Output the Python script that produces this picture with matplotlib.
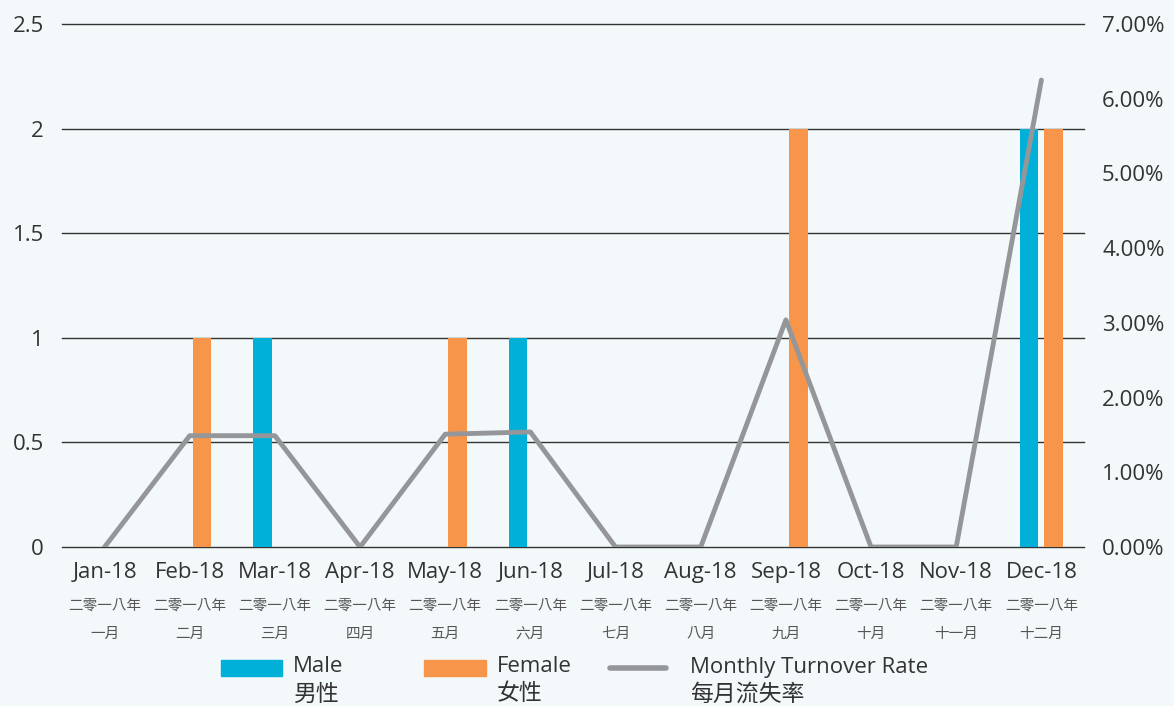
import matplotlib.pyplot as plt
from matplotlib.patches import Rectangle
from matplotlib.lines import Line2D
import numpy as np

plt.rcParams['font.family'] = ['Open Sans', 'Noto Sans CJK TC', 'DejaVu Sans']

# 数据
months_en = ['Jan-18', 'Feb-18', 'Mar-18', 'Apr-18', 'May-18', 'Jun-18',
             'Jul-18', 'Aug-18', 'Sep-18', 'Oct-18', 'Nov-18', 'Dec-18']
months_zh = ['一月', '二月', '三月', '四月', '五月', '六月',
             '七月', '八月', '九月', '十月', '十一月', '十二月']
year_zh = '二零一八年'
male = [0, 0, 1, 0, 0, 1, 0, 0, 0, 0, 0, 2]
female = [0, 1, 0, 0, 1, 0, 0, 0, 2, 0, 0, 2]
turnover = [0.0, 1.49, 1.49, 0.0, 1.51, 1.54, 0.0, 0.0, 3.04, 0.0, 0.0, 6.25]  # %

c_male = '#00b0d8'
c_female = '#f7964a'
c_line = '#959699'
c_text = '#333333'
zh_font = ['Noto Sans CJK TC']

fig = plt.figure(figsize=(11.74, 7.06), dpi=100)
fig.patch.set_facecolor('#f3f9fb')
ax = fig.add_axes([0.0528, 0.2252, 0.8705, 0.7408])
ax.patch.set_alpha(0)

x = np.arange(len(months_en))
w = 0.22
ax.bar(x - 0.145, male, w, color=c_male, zorder=3)
ax.bar(x + 0.145, female, w, color=c_female, zorder=3)

ax.set_xlim(-0.5, 11.5)
ax.set_ylim(0, 2.5)
ax.set_yticks([0, 0.5, 1, 1.5, 2, 2.5])
ax.set_yticklabels(['0', '0.5', '1', '1.5', '2', '2.5'])
ax.grid(axis='y', color='#333333', linewidth=1, zorder=1)
for gl in ax.get_ygridlines():
    gl.set_clip_on(False)
ax.set_axisbelow(True)
for s in ax.spines.values():
    s.set_visible(False)
ax.tick_params(axis='y', length=0, pad=13, labelsize=16, labelcolor=c_text)
ax.set_xticks(x)
ax.set_xticklabels(months_en)
ax.tick_params(axis='x', length=0, pad=11, labelsize=16, labelcolor=c_text)

# 中文月份标签
trans = ax.get_xaxis_transform()
for i in x:
    ax.text(i, -0.113, year_zh, transform=trans, ha='center', va='center',
            fontsize=10.5, color='#555555', family=zh_font, fontweight='light')
    ax.text(i, -0.166, months_zh[i], transform=trans, ha='center', va='center',
            fontsize=10.5, color='#555555', family=zh_font, fontweight='light')

# 右轴：流失率
ax2 = ax.twinx()
ax2.plot(x, turnover, color=c_line, linewidth=3.5, solid_capstyle='round',
         solid_joinstyle='round', zorder=4)
ax2.set_ylim(0, 7)
ax2.set_yticks(np.arange(0, 8, 1))
ax2.set_yticklabels([f'{v:.2f}%' for v in range(8)])
ax2.tick_params(axis='y', length=0, pad=13, labelsize=16, labelcolor=c_text)
for s in ax2.spines.values():
    s.set_visible(False)

# 图例（手动绘制）
W, H = 1174, 706
def fx(px): return px / W
def fy(py): return 1 - py / H

fig.patches.append(Rectangle((fx(221), fy(676)), fx(282) - fx(221), fy(660) - fy(676),
                             transform=fig.transFigure, color=c_male))
fig.patches.append(Rectangle((fx(424), fy(676)), fx(486) - fx(424), fy(660) - fy(676),
                             transform=fig.transFigure, color=c_female))
fig.lines.append(Line2D([fx(610), fx(666)], [fy(668), fy(668)], transform=fig.transFigure,
                        color=c_line, linewidth=4, solid_capstyle='round'))
for px, en, zh in [(293, 'Male', '男性'), (497, 'Female', '女性'),
                   (690, 'Monthly Turnover Rate', '每月流失率')]:
    fig.text(fx(px), fy(667), en, ha='left', va='center', fontsize=16, color=c_text)
    fig.text(fx(px), fy(694), zh, ha='left', va='center', fontsize=16.5, color=c_text,
             family=zh_font, fontweight='light')

fig.savefig('out.png', dpi=100, facecolor=fig.get_facecolor())
